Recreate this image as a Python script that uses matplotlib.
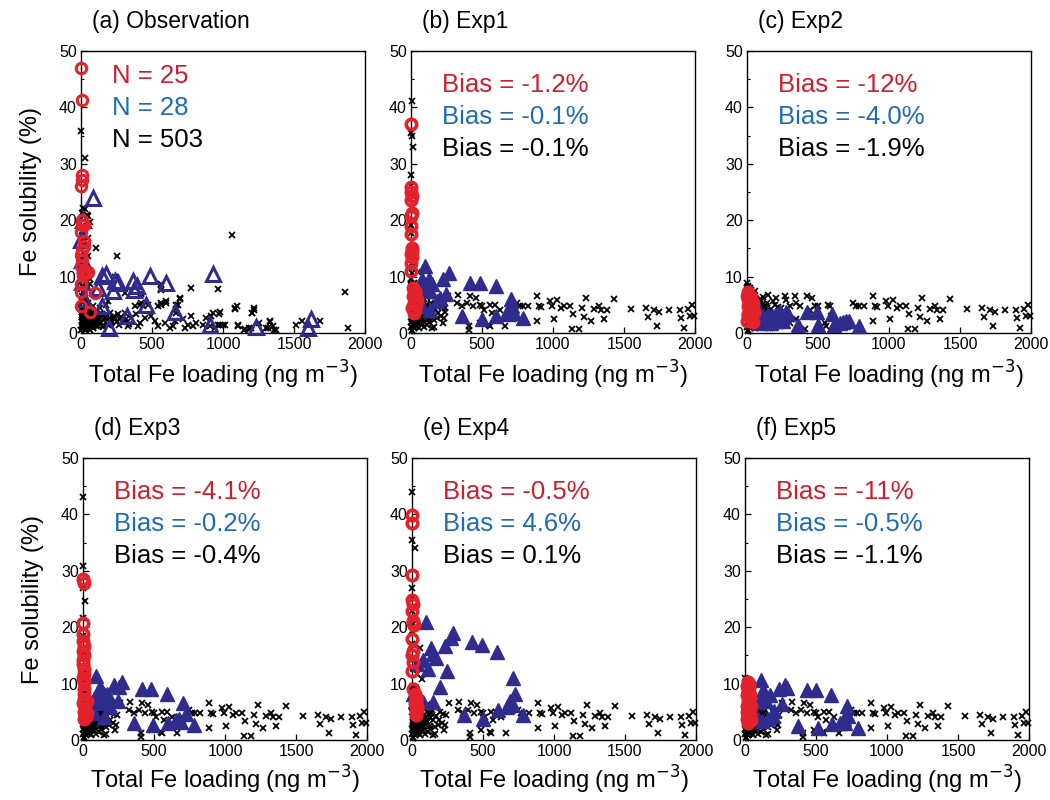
import matplotlib
matplotlib.use("Agg")
import matplotlib.pyplot as plt
from matplotlib.ticker import MultipleLocator

plt.rcParams['font.family'] = ['Liberation Sans', 'DejaVu Sans']

# ---------------- data ----------------
titles = ["(a) Observation", "(b) Exp1", "(c) Exp2", "(d) Exp3", "(e) Exp4", "(f) Exp5"]
texts_obs = ["N = 25", "N = 28", "N = 503"]
bias_red = ["-1.2%", "-12%", "-4.1%", "-0.5%", "-11%"]
bias_blue = ["-0.1%", "-4.0%", "-0.2%", "4.6%", "-0.5%"]
bias_black = ["-0.1%", "-1.9%", "-0.4%", "0.1%", "-1.1%"]

# Observation panel
obs_red_x = [2, 6, 8, 4, 0, 7, 10, 24, 2, 18, 22, 3, 8, 0, 12, 50, 15, 3, 0, 98, 0, 63, 5, 14, 28]
obs_red_y = [46.9, 41.4, 28.1, 27.2, 26.0, 20.1, 19.2, 19.1, 17.9, 16.3, 15.4, 13.9, 13.0, 11.8, 10.9,
             10.8, 10.1, 8.6, 7.3, 7.1, 4.7, 3.8, 14.8, 10.4, 11.0]
obs_blue_x = [82, 122, 145, 176, 145, 199, 227, 239, 262, 321, 367, 372, 391, 461, 489, 597, 660, 906,
              929, 1233, 1596, 1619, 0, 10, 5, 20, 30, 15]
obs_blue_y = [24.0, 8.0, 10.1, 10.5, 4.7, 0.9, 7.4, 9.2, 8.9, 3.0, 9.2, 7.7, 8.3, 5.0, 10.1, 8.9, 3.8, 1.5,
              10.4, 1.1, 0.9, 2.4, 16.5, 13.0, 9.0, 6.0, 12.0, 20.0]
obs_black_x = [0, 28, 105, 255, 1065, 1860, 1877, 964, 777, 700, 601, 562, 566, 426, 414, 437, 667, 672,
               1081, 1097, 1221, 1205, 1257, 1332, 1315, 1514, 1554, 1683, 882, 917, 971, 976, 1000, 777,
               1105, 1151, 1186, 1362,
               61, 237, 308, 425, 565, 1082, 1218, 1207, 1329, 1376, 1106, 1153, 1200, 190, 178, 425, 472,
               542, 565, 601, 683, 671, 695, 930, 977, 1012, 965, 812, 789, 754, 730, 660, 648, 589, 542,
               519, 495, 449, 413, 389, 354, 331, 308, 272, 261, 225, 213, 202, 167, 155, 132, 120, 108,
               96, 85, 73, 73, 49, 49, 37, 26, 26, 14, 14, 7, 7, 378, 402, 625, 718, 859, 906, 942, 1305,
               1352,
               16, 28, 5, 40, 52, 63, 5, 16, 52, 35, 52, 12, 21, 63, 40, 75, 28, 52, 87, 5, 134, 16, 63,
               110, 12, 40, 87, 0, 28, 75, 59, 21, 7, 2, 16, 2, 0, 8, 18, 30, 45, 4, 10, 24, 36, 44, 56,
               68, 80, 92]
obs_black_y = [35.8, 31.1, 15.1, 13.7, 17.3, 7.2, 0.9, 7.8, 8.0, 6.2, 5.6, 4.9, 7.7, 6.9, 5.0, 4.7, 5.0,
               4.3, 4.4, 4.7, 4.4, 3.6, 1.8, 1.9, 0.9, 1.5, 2.1, 2.2, 2.7, 3.0, 3.4, 1.5, 1.5, 3.0, 1.5,
               0.6, 0.9, 0.6,
               8.6, 10.0, 7.1, 7.1, 8.6, 4.3, 4.1, 3.6, 2.1, 0.6, 1.3, 0.7, 0.9, 5.6, 5.0, 5.3, 5.0, 4.7,
               5.3, 5.4, 5.0, 3.6, 6.0, 3.6, 3.7, 1.5, 1.5, 1.8, 1.2, 1.5, 0.9, 2.1, 1.2, 1.8, 1.2, 2.1,
               3.0, 2.7, 1.8, 3.3, 2.7, 1.2, 3.6, 2.4, 3.3, 2.7, 1.8, 3.6, 2.7, 1.5, 3.3, 2.4, 1.2, 3.0,
               2.1, 3.6, 1.2, 2.7, 4.7, 1.5, 3.3, 0.6, 2.1, 4.5, 5.9, 1.2, 4.7, 1.2, 0.9, 2.4, 1.5, 1.2,
               0.9, 0.9, 1.2,
               22.2, 21.9, 21.3, 21.0, 20.7, 19.6, 18.9, 17.2, 16.9, 14.2, 13.6, 11.8, 10.7, 9.5, 8.0,
               7.1, 6.2, 5.3, 4.7, 4.1, 4.4, 3.0, 2.7, 2.4, 1.8, 1.2, 0.9, 0.6, 2.1, 3.6, 4.1, 7.1, 8.3,
               16.6, 15.4, 13.0, 10.7, 2.0, 1.1, 2.6, 1.7, 3.2, 2.9, 0.8, 1.4, 2.3, 1.9, 2.8, 1.6, 2.2]
# dense low band of the observations
obs_dense_x = [3, 6, 9, 12, 15, 18, 21, 24, 27, 30, 34, 38, 42, 46, 50, 55, 60, 65, 70, 76, 82, 88, 95,
               102, 110, 118, 126, 135, 145, 155, 165, 178, 190, 205, 220, 235, 250, 268, 285, 300, 320,
               340, 4, 8, 2, 6, 10, 5, 3, 7]
obs_dense_y = [0.5, 1.5, 2.8, 3.9, 0.9, 2.2, 3.5, 1.1, 2.6, 4.2, 0.7, 1.9, 3.1, 2.4, 1.4, 3.7, 0.6, 2.9,
               1.7, 3.3, 0.9, 2.5, 1.6, 3.0, 2.0, 1.2, 2.7, 1.8, 3.4, 1.0, 2.3, 2.9, 1.5, 2.6, 1.9, 3.1,
               2.2, 1.4, 2.8, 1.9, 2.4, 1.6, 6.5, 9.2, 12.5, 15.8, 18.0, 4.5, 7.8, 5.5]

# Model panels: shared black points (dense cluster, low cluster, mid range, far range)
mod_dense_x = [1, 3, 5, 7, 9, 11, 13, 16, 19, 22, 25, 28, 31, 34, 38, 42, 46, 50, 55, 60, 65, 70, 75, 82,
               90, 98, 106, 115, 125, 135, 2, 6, 10, 14, 18, 26, 35, 44, 58, 68]
mod_dense_y = [2.0, 5.0, 7.0, 3.2, 8.2, 1.5, 5.8, 3.9, 7.2, 0.8, 4.5, 6.6, 2.6, 5.3, 1.9, 7.0, 3.5, 4.8,
               2.1, 6.0, 3.0, 4.3, 1.7, 5.6, 2.8, 4.0, 3.4, 6.4, 2.5, 4.7, 8.8, 8.4, 0.4, 6.2, 7.9, 7.6,
               3.1, 4.1, 7.5, 5.0]
mod_near_x = [2, 4, 6, 8, 10, 12, 15, 18, 20, 24, 28, 32, 36, 40, 45, 50, 55, 60, 66, 72, 80, 88, 95,
              103, 112, 120, 130, 140, 150, 160, 172, 185, 198, 210, 225, 240, 5, 9, 14, 22, 30, 42, 52,
              64, 78, 92, 108, 126, 145, 165, 190, 215, 235]
mod_near_y = [1.0, 2.5, 4.0, 5.5, 3.0, 6.5, 1.8, 4.8, 7.5, 2.2, 5.6, 3.4, 1.2, 4.4, 6.2, 2.8, 0.8, 3.8,
              5.2, 1.6, 4.0, 2.4, 6.0, 3.2, 1.4, 4.6, 2.0, 5.4, 3.6, 1.0, 4.2, 2.6, 5.0, 3.0, 1.8, 4.4,
              3.6, 0.6, 2.9, 4.1, 1.3, 2.0, 5.0, 2.6, 3.3, 1.1, 4.9, 3.9, 0.9, 2.3, 3.5, 4.6, 2.7]
mod_mid_x = [323, 264, 334, 358, 393, 417, 459, 440, 488, 499, 511, 558, 594, 570, 629, 664, 558, 546,
             405, 405, 488]
mod_mid_y = [5.3, 6.5, 6.8, 4.7, 5.3, 6.5, 6.2, 4.7, 5.0, 4.7, 4.1, 5.0, 5.0, 3.6, 4.1, 1.2, 1.2, 1.5,
             0.6, 1.2, 1.8]
mod_far_x = [747, 770, 789, 822, 888, 900, 916, 888, 982, 994, 1006, 1029, 1053, 1077, 1117, 1143, 1136,
             1183, 1230, 1206, 1218, 1265, 1289, 1324, 1340, 1383, 1359, 1430, 1548, 1654, 1670, 1713,
             1732, 1748, 1819, 1896, 1901, 1920, 1948, 1976, 1967, 1995]
mod_far_y = [5.3, 4.7, 4.7, 4.7, 6.5, 4.7, 4.6, 2.1, 5.6, 4.7, 2.5, 5.9, 4.4, 4.7, 4.7, 3.4, 0.7, 0.7,
             6.2, 4.4, 2.8, 2.1, 4.3, 4.7, 4.1, 4.0, 2.4, 6.0, 4.3, 4.4, 2.8, 4.0, 1.2, 3.8, 4.0, 4.1,
             2.7, 0.9, 4.3, 4.9, 3.0, 3.0]

# Exp-specific extra black points
exp1_black_x = [5, 0, 7, 16, 0, 0, 0, 0, 9, 5, 52, 87, 64, 134, 181, 205, 228, 240, 3, 2, 8, 4, 20, 30]
exp1_black_y = [41.1, 35.5, 34.9, 33.0, 28.1, 26.0, 19.2, 17.8, 12.4, 10.7, 10.9, 7.1, 5.9, 6.5, 5.3,
                5.9, 4.7, 3.8, 9.5, 8.5, 11.5, 13.5, 8.8, 7.8]
exp2_black_x = [0, 3, 8, 12, 148, 101, 183, 206, 265, 335, 277, 300, 347, 370, 422, 460, 476, 441, 500,
                570, 581, 593, 546, 406, 300, 230, 159, 347, 558]
exp2_black_y = [8.0, 7.2, 6.8, 7.6, 6.8, 5.6, 5.6, 6.2, 6.5, 6.6, 5.9, 4.7, 5.3, 4.7, 6.5, 6.2, 4.7, 4.1,
                4.7, 5.0, 4.7, 3.0, 1.8, 0.7, 1.8, 1.2, 0.9, 2.4, 1.2]
exp3_black_x = [0, 0, 0, 16, 0, 3, 8, 12, 5, 20, 25, 10]
exp3_black_y = [43.1, 30.8, 27.0, 24.6, 21.7, 18.5, 15.0, 12.0, 10.2, 9.0, 8.0, 11.0]
exp4_black_x = [0, 0, 21, 0, 0, 0, 0, 0, 56, 0, 33, 68, 10, 5, 15, 25, 40, 8]
exp4_black_y = [44.0, 35.5, 34.0, 27.0, 25.2, 22.9, 19.4, 17.0, 16.4, 14.1, 11.7, 10.9, 12.8, 9.5, 9.0,
                8.2, 7.6, 20.5]
exp5_black_x = [0, 5, 10, 15, 20, 30, 3, 8, 12, 25]
exp5_black_y = [11.0, 10.5, 9.8, 10.2, 9.0, 8.5, 8.0, 7.2, 10.8, 9.4]

# Red circles per experiment
exp1_red_x = [3, 0, 2, 5, 0, 4, 0, 2, 0, 6, 4, 2, 8, 3, 0, 16, 25, 30, 12, 40, 20, 35, 10, 28, 22]
exp1_red_y = [37.1, 25.8, 25.0, 24.3, 23.6, 21.2, 20.8, 19.0, 17.6, 15.0, 14.5, 14.0, 13.5, 12.4, 11.0,
              8.0, 7.5, 7.0, 6.5, 5.8, 5.3, 5.0, 4.5, 4.0, 3.6]
exp2_red_x = [5, 15, 25, 10, 20, 30, 5, 15, 25, 35, 10, 20, 30, 40, 0, 12, 22, 32, 8, 18, 28, 38, 45, 50, 2]
exp2_red_y = [7.2, 6.8, 6.4, 6.0, 5.6, 5.2, 4.8, 4.4, 4.0, 3.6, 3.2, 2.8, 2.4, 2.0, 6.6, 5.8, 5.0, 4.2,
              3.4, 2.6, 3.0, 4.6, 5.4, 3.8, 2.2]
exp3_red_x = [2, 5, 0, 3, 0, 4, 2, 6, 3, 0, 5, 8, 2, 6, 10, 4, 8, 3, 12, 6, 15, 10, 30, 25, 20]
exp3_red_y = [28.5, 27.9, 20.8, 18.8, 17.6, 16.7, 15.8, 15.0, 14.1, 13.4, 12.6, 11.7, 11.0, 10.3, 9.1,
              8.2, 7.3, 6.5, 5.6, 5.0, 4.4, 3.8, 7.0, 4.7, 4.1]
exp4_red_x = [2, 0, 3, 0, 4, 2, 6, 10, 14, 0, 5, 3, 8, 2, 10, 20, 25, 30, 22, 28, 35, 30, 25, 30, 35]
exp4_red_y = [39.9, 38.4, 29.3, 24.9, 24.1, 22.9, 21.1, 20.7, 20.4, 17.9, 15.8, 15.0, 13.8, 12.3, 9.1,
              8.2, 7.6, 7.0, 6.5, 5.9, 5.3, 4.7, 4.4, 7.0, 5.9]
exp5_red_x = [20, 25, 15, 30, 20, 25, 15, 30, 20, 25, 15, 30, 20, 25, 15, 30, 20, 25, 15, 30, 20, 35, 40,
              35, 40]
exp5_red_y = [10.2, 9.9, 9.6, 9.2, 8.8, 8.4, 7.9, 7.5, 7.0, 6.6, 6.1, 5.8, 5.5, 5.2, 4.9, 4.6, 4.3, 4.0,
              3.7, 3.4, 3.1, 8.0, 6.0, 4.5, 3.5]

# Blue triangles per experiment
exp1_blue_x = [99, 75, 130, 146, 87, 111, 228, 271, 205, 247, 181, 134, 75, 358, 417, 483, 499, 601, 601,
               704, 711, 676, 688, 723, 789, 16, 40, 134]
exp1_blue_y = [11.8, 9.5, 9.5, 8.6, 8.0, 7.8, 9.5, 10.7, 6.2, 7.0, 5.6, 4.1, 4.7, 3.0, 8.9, 8.9, 2.5, 8.4,
               3.0, 6.0, 4.7, 3.8, 3.3, 3.6, 2.7, 5.3, 6.5, 7.4]
exp2_blue_x = [89, 113, 148, 178, 206, 230, 253, 277, 288, 359, 424, 492, 499, 600, 610, 675, 699, 717,
               788, 136, 171, 101, 66, 206, 253, 652, 77, 159]
exp2_blue_y = [3.6, 3.0, 3.3, 3.0, 3.3, 3.7, 3.0, 3.7, 3.3, 1.5, 3.7, 3.7, 1.5, 3.4, 1.5, 1.9, 2.1, 2.2,
               1.3, 2.1, 1.8, 2.4, 2.7, 2.2, 2.1, 1.8, 1.8, 2.5]
exp3_blue_x = [94, 122, 151, 169, 75, 111, 193, 216, 252, 275, 245, 193, 146, 362, 416, 482, 494, 593,
               600, 706, 722, 675, 692, 652, 781, 40, 75, 134]
exp3_blue_y = [11.4, 9.4, 8.2, 8.1, 7.3, 7.6, 7.3, 9.7, 9.4, 10.3, 7.0, 5.9, 4.1, 3.1, 9.1, 9.1, 2.6, 8.2,
               3.1, 6.5, 4.6, 3.8, 3.2, 3.5, 2.6, 5.0, 4.7, 6.5]
exp4_blue_x = [99, 286, 272, 232, 131, 146, 169, 80, 115, 249, 197, 420, 491, 601, 709, 723, 688, 667,
               709, 608, 366, 502, 784, 150, 80, 33, 21, 9]
exp4_blue_y = [21.0, 18.9, 18.1, 16.7, 16.4, 15.3, 14.6, 14.2, 12.6, 12.3, 9.4, 17.3, 16.9, 15.6, 11.0,
               8.1, 7.0, 5.9, 6.2, 5.3, 4.4, 3.8, 4.4, 6.8, 6.8, 13.5, 7.0, 8.2]
exp5_blue_x = [111, 129, 118, 176, 148, 101, 242, 282, 299, 259, 205, 165, 118, 376, 435, 501, 511, 605,
               612, 718, 722, 694, 671, 706, 793, 59, 82, 200]
exp5_blue_y = [10.7, 8.8, 7.3, 7.9, 7.0, 6.8, 9.1, 9.8, 9.3, 6.4, 5.2, 3.7, 3.3, 2.5, 8.9, 8.9, 2.2, 8.0,
               2.8, 6.0, 4.3, 3.7, 3.1, 3.1, 2.2, 5.2, 4.0, 4.3]

exp_black = [(exp1_black_x, exp1_black_y), (exp2_black_x, exp2_black_y), (exp3_black_x, exp3_black_y),
             (exp4_black_x, exp4_black_y), (exp5_black_x, exp5_black_y)]
exp_red = [(exp1_red_x, exp1_red_y), (exp2_red_x, exp2_red_y), (exp3_red_x, exp3_red_y),
           (exp4_red_x, exp4_red_y), (exp5_red_x, exp5_red_y)]
exp_blue = [(exp1_blue_x, exp1_blue_y), (exp2_blue_x, exp2_blue_y), (exp3_blue_x, exp3_blue_y),
            (exp4_blue_x, exp4_blue_y), (exp5_blue_x, exp5_blue_y)]

# ---------------- style ----------------
RED_M = '#e3222b'
RED_T = '#cc1f2e'
BLUE_T = '#1f6cb6'
NAVY = '#2f2c8e'

fig = plt.figure(figsize=(10.5, 8.0), dpi=100)
positions = [
    (81, 333), (411, 333), (747, 333),
    (83, 740), (412, 740), (745, 740),
]
W, H = 284, 282


def make_ax(i):
    lx, by = positions[i]
    ax = fig.add_axes([lx / 1050, (800 - by) / 800, W / 1050, H / 800])
    ax.set_xlim(0, 2000)
    ax.set_ylim(0, 50)
    ax.xaxis.set_major_locator(MultipleLocator(500))
    ax.yaxis.set_major_locator(MultipleLocator(10))
    ax.yaxis.set_minor_locator(MultipleLocator(5))
    ax.tick_params(axis='both', which='major', direction='in', length=4, width=0.9,
                   labelsize=11.5, pad=3, top=False, right=False)
    ax.tick_params(axis='y', which='minor', direction='in', length=2.5, width=0.8, right=False)
    for s in ax.spines.values():
        s.set_linewidth(1.0)
    ax.set_xlabel("Total Fe loading (ng m$^{-3}$)", fontsize=17, labelpad=5 if i < 3 else 3)
    if i in (0, 3):
        ax.set_ylabel("Fe solubility (%)", fontsize=17, labelpad=12)
    ax.text(0.04, 1.065, titles[i], transform=ax.transAxes, fontsize=16.5, ha='left', va='bottom')
    return ax


def black_x(ax, x, y):
    ax.plot(x, y, linestyle='none', marker='x', color='black', markersize=4.4,
            markeredgewidth=1.3, clip_on=False, zorder=3)


# (a) observation
ax = make_ax(0)
black_x(ax, obs_black_x, obs_black_y)
black_x(ax, obs_dense_x, obs_dense_y)
ax.plot(obs_blue_x, obs_blue_y, linestyle='none', marker='^', markersize=9.5, markerfacecolor='none',
        markeredgecolor=NAVY, markeredgewidth=2.2, clip_on=False, zorder=4)
ax.plot(obs_red_x, obs_red_y, linestyle='none', marker='o', markersize=7.5, markerfacecolor='none',
        markeredgecolor=RED_M, markeredgewidth=2.2, clip_on=False, zorder=5)
for k, (t, c) in enumerate(zip(texts_obs, [RED_T, BLUE_T, 'black'])):
    ax.text(0.11, 0.885 - k * 0.113, t, transform=ax.transAxes, color=c, fontsize=18.5,
            ha='left', va='baseline')

# (b)-(f) experiments
for j in range(5):
    ax = make_ax(j + 1)
    black_x(ax, mod_dense_x, mod_dense_y)
    black_x(ax, mod_near_x, mod_near_y)
    black_x(ax, mod_far_x, mod_far_y)
    if j != 1:
        black_x(ax, mod_mid_x, mod_mid_y)
    black_x(ax, *exp_black[j])
    bx, byv = exp_blue[j]
    ax.plot(bx, byv, linestyle='none', marker='^', markersize=10.5, color=NAVY,
            markeredgecolor=NAVY, markeredgewidth=1.0, clip_on=False, zorder=4)
    rx, ry = exp_red[j]
    ax.plot(rx, ry, linestyle='none', marker='o', markersize=7.5, markerfacecolor='none',
            markeredgecolor=RED_M, markeredgewidth=2.6, clip_on=False, zorder=5)
    for k, (t, c) in enumerate(zip([bias_red[j], bias_blue[j], bias_black[j]],
                                   [RED_T, BLUE_T, 'black'])):
        ax.text(0.11, 0.855 - k * 0.113, "Bias = " + t, transform=ax.transAxes, color=c,
                fontsize=18.5, ha='left', va='baseline')

fig.savefig("out.png", dpi=100)
